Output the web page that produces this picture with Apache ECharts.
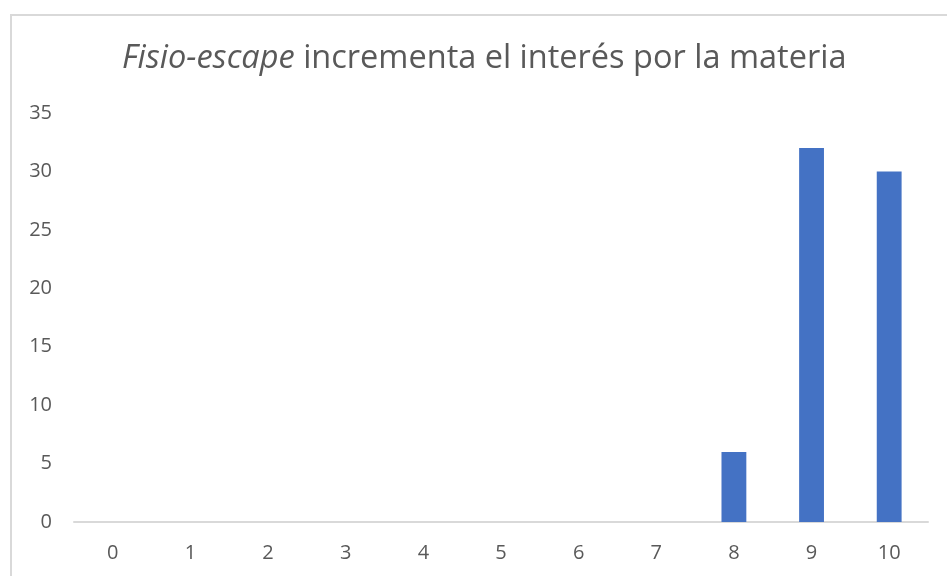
<!DOCTYPE html>
<html>
<head>
<meta charset="utf-8">
<script src="https://cdn.jsdelivr.net/npm/echarts@6/dist/echarts.min.js"></script>
<style>html,body{margin:0;padding:0;background:#fff}#c{width:947px;height:576px}</style>
</head>
<body>
<div id="c"></div>
<script>
var categories = ['0','1','2','3','4','5','6','7','8','9','10'];
var values = [0,0,0,0,0,0,0,0,6,32,30];
var titleItalic = 'Fisio-escape';
var titleRest = ' incrementa el interés por la materia';

var chart = echarts.init(document.getElementById('c'));
var font = 'Open Sans';
chart.setOption({
  animation: false,
  graphic: [{
    type: 'rect', left: 10, top: 14, z: -1,
    shape: {width: 1000, height: 1000},
    style: {fill: '#fff', stroke: '#d9d9d9', lineWidth: 2}
  }],
  title: {
    left: 117, top: 37,
    text: '{i|' + titleItalic + '}{n|' + titleRest + '}',
    textStyle: {
      fontWeight: 'normal',
      rich: {
        i: {fontFamily: font, fontSize: 32.5, fontStyle: 'italic', fontWeight: 'normal', color: '#595959'},
        n: {fontFamily: font, fontSize: 32.5, fontWeight: 'normal', color: '#595959'}
      }
    }
  },
  grid: {left: 74, right: 19, top: 113, bottom: 54, containLabel: false},
  xAxis: {
    type: 'category', data: categories,
    axisLine: {lineStyle: {color: '#d9d9d9', width: 2}},
    axisTick: {show: false},
    axisLabel: {color: '#595959', fontFamily: font, fontSize: 20, margin: 21}
  },
  yAxis: {
    type: 'value', min: 0, max: 35, interval: 5,
    splitLine: {show: false},
    axisLine: {show: false}, axisTick: {show: false},
    axisLabel: {color: '#595959', fontFamily: font, fontSize: 20, margin: 22}
  },
  series: [{
    type: 'bar', data: values, barWidth: '32%',
    itemStyle: {color: '#4472c4'}
  }]
});
</script>
</body>
</html>
